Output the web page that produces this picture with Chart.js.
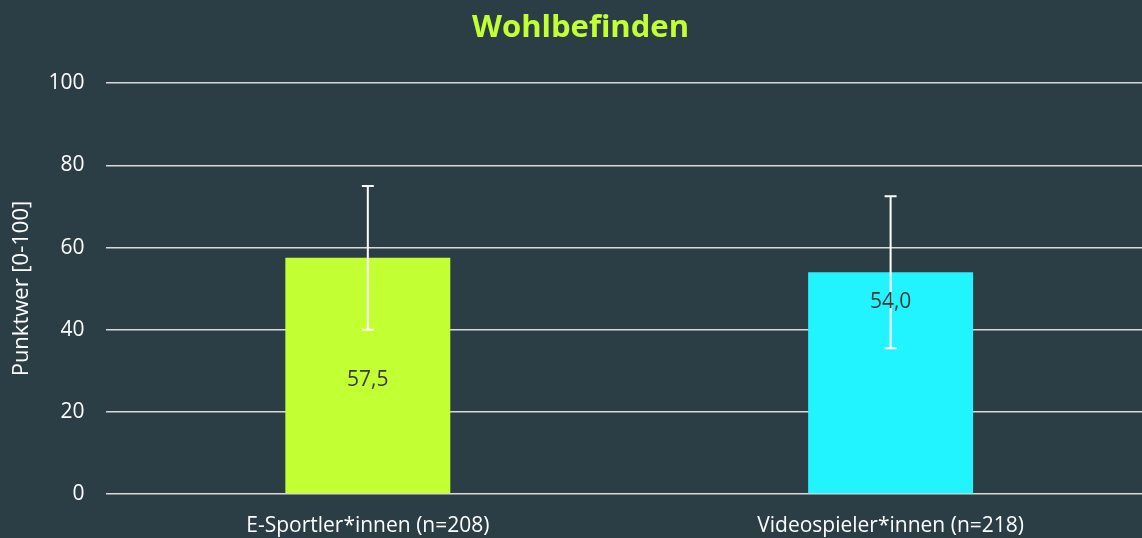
<!DOCTYPE html>
<html>
<head>
<meta charset="utf-8">
<script src="https://cdn.jsdelivr.net/npm/chart.js@4"></script>
<style>
    html, body { margin: 0; padding: 0; background: #2b3e45; overflow: hidden; }
    #wrap { width: 1152px; height: 538px; }
</style>
</head>
<body>
<div id="wrap"><canvas id="chart"></canvas></div>
<script>
const categories = ['E-Sportler*innen (n=208)', 'Videospieler*innen (n=218)'];
const means = [57.5, 54.0];
const errLow = [40.0, 35.5];
const errHigh = [75.0, 72.5];
const barColors = ['#c2ff33', '#22f4ff'];
const labelPlace = ['center', 'top'];

const FONT = '"Open Sans", sans-serif';

// error bars with small caps
const errorBars = {
    id: 'errorBars',
    afterDatasetsDraw(chart) {
        const ctx = chart.ctx;
        const y = chart.scales.y;
        const meta = chart.getDatasetMeta(0);
        ctx.save();
        ctx.strokeStyle = '#ffffff';
        ctx.lineWidth = 2;
        meta.data.forEach((bar, i) => {
            const top = y.getPixelForValue(errHigh[i]);
            const bot = y.getPixelForValue(errLow[i]);
            ctx.beginPath();
            ctx.moveTo(bar.x, top);
            ctx.lineTo(bar.x, bot);
            ctx.moveTo(bar.x - 6, top);
            ctx.lineTo(bar.x + 6, top);
            ctx.moveTo(bar.x - 6, bot);
            ctx.lineTo(bar.x + 6, bot);
            ctx.stroke();
        });
        ctx.restore();
    }
};

// value labels inside the bars
const valueLabels = {
    id: 'valueLabels',
    afterDraw(chart) {
        const ctx = chart.ctx;
        const meta = chart.getDatasetMeta(0);
        ctx.save();
        ctx.fillStyle = '#3a3a3a';
        ctx.font = '21px ' + FONT;
        ctx.textAlign = 'center';
        ctx.textBaseline = 'middle';
        meta.data.forEach((bar, i) => {
            const txt = means[i].toFixed(1).replace('.', ',');
            let ty;
            if (labelPlace[i] === 'center') {
                ty = (bar.y + bar.base) / 2 + 4;
            } else {
                ty = bar.y + 30;
            }
            ctx.fillText(txt, bar.x, ty);
        });
        ctx.restore();
    }
};

new Chart(document.getElementById('chart'), {
    type: 'bar',
    data: {
        labels: categories,
        datasets: [{
            data: means,
            backgroundColor: barColors,
            barPercentage: 0.3155,
            categoryPercentage: 1.0,
        }],
    },
    options: {
        responsive: true,
        maintainAspectRatio: false,
        animation: false,
        layout: { padding: { top: 10, bottom: 1, left: 9 } },
        plugins: {
            legend: { display: false },
            tooltip: { enabled: false },
            title: {
                display: true,
                text: 'Wohlbefinden',
                color: '#c2ff33',
                font: { family: FONT, size: 31, weight: 'bold' },
                padding: { top: 0, bottom: 36 },
            },
        },
        scales: {
            x: {
                grid: { display: false },
                border: { display: false },
                ticks: {
                    color: '#ffffff',
                    font: { family: FONT, size: 21 },
                    padding: 11,
                },
                afterFit(scale) {
                    scale.height = 43;
                },
            },
            y: {
                min: 0,
                max: 100,
                ticks: {
                    stepSize: 20,
                    color: '#ffffff',
                    font: { family: FONT, size: 21 },
                    padding: 22,
                },
                grid: { color: '#d9d9d9', lineWidth: 1.5, drawTicks: false },
                border: { display: false },
                title: {
                    display: true,
                    text: 'Punktwer [0-100]',
                    color: '#ffffff',
                    font: { family: FONT, size: 22 },
                    padding: { top: 0, bottom: -9 },
                },
            },
        },
    },
    plugins: [errorBars, valueLabels],
});
</script>
</body>
</html>
